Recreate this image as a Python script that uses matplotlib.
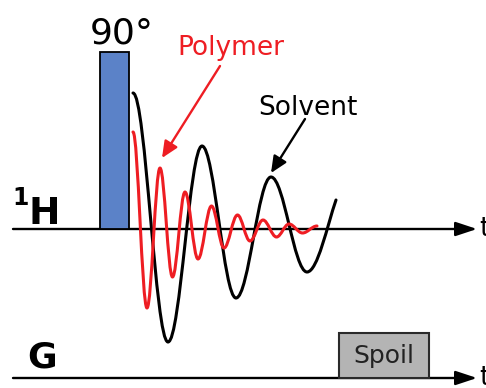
import matplotlib
matplotlib.use("Agg")
import matplotlib.pyplot as plt
from matplotlib.path import Path
from matplotlib.patches import PathPatch, Rectangle

# FID extrema (x = time, y = amplitude above the 1H line)
solvent_t = [133, 168, 202, 236, 271, 307, 336]
solvent_amp = [136, -113, 83, -69, 52, -43, 29]
polymer_t = [133, 147, 160, 172.5, 185, 198, 211.5, 224, 237.5, 250, 263, 276.5, 289, 302.5, 317]
polymer_amp = [97, -79, 61, -48, 37, -30, 23, -19, 14, -12, 9, -8, 5, -4, 3]

# pulse / gradient blocks: (start, width, height)
pulse_90 = (100, 29, 177)
spoil = (339, 90, 45)

h_line = 0
g_line = -149
t_start, t_end = 13, 477

K = 0.364  # bezier handle length for a half sine


def wave_patch(ts, amps, color, end_slope=None):
    verts = [(ts[0], amps[0])]
    codes = [Path.MOVETO]
    n = len(ts)
    for i in range(1, n):
        x0, y0, x1, y1 = ts[i-1], amps[i-1], ts[i], amps[i]
        dx = x1 - x0
        c1 = (x0 + K * dx, y0)
        if end_slope is not None and i == n - 1:
            c2 = (x1 - 0.3 * dx, y1 - 0.3 * dx * end_slope)
        else:
            c2 = (x1 - K * dx, y1)
        verts += [c1, c2, (x1, y1)]
        codes += [Path.CURVE4] * 3
    return PathPatch(Path(verts, codes), facecolor="none", edgecolor=color,
                     lw=2.2, capstyle="round", joinstyle="round", zorder=3)


fig = plt.figure(figsize=(4.86, 3.88), dpi=100)
ax = fig.add_axes([0, 0, 1, 1])
ax.set_xlim(0, 486)
ax.set_ylim(-159, 229)
ax.axis("off")

RED = "#ee1d23"

# time axes with arrows
for yl in (h_line, g_line):
    ax.annotate("", xy=(t_end, yl), xytext=(t_start, yl),
                arrowprops=dict(arrowstyle="-|>,head_length=1.3,head_width=0.43",
                                mutation_scale=10, lw=1.7, color="black",
                                shrinkA=0, shrinkB=0), zorder=2)
    ax.text(479, yl, "t", fontsize=19, ha="left", va="center")

# 90 degree pulse
ax.add_patch(Rectangle((pulse_90[0], h_line), pulse_90[1], pulse_90[2],
                       facecolor="#5b82c8", edgecolor="black", lw=1.3, zorder=4))
ax.text(pulse_90[0] + pulse_90[1] / 2 + 7, 186, "90°", fontsize=26,
        ha="center", va="baseline")

# spoil gradient
ax.add_patch(Rectangle((spoil[0], g_line), spoil[1], spoil[2],
                       facecolor="#b4b4b4", edgecolor="#2a2a2a", lw=1.5, zorder=4))
ax.text(spoil[0] + spoil[1] / 2, -134, "Spoil", fontsize=18, color="#222222",
        ha="center", va="baseline", zorder=5)

# FIDs
ax.add_patch(wave_patch(solvent_t, solvent_amp, "black", end_slope=2.9))
ax.add_patch(wave_patch(polymer_t, polymer_amp, RED))

# labels + arrows
ax.text(231, 174, "Polymer", fontsize=19, color=RED, ha="center", va="baseline")
ax.annotate("", xy=(162, 71), xytext=(220, 163),
            arrowprops=dict(arrowstyle="-|>,head_length=1.0,head_width=0.45",
                            mutation_scale=10, lw=1.7, color=RED,
                            shrinkA=0, shrinkB=0), zorder=5)
ax.text(308, 114, "Solvent", fontsize=19, color="black", ha="center", va="baseline")
ax.annotate("", xy=(271, 56), xytext=(305, 110),
            arrowprops=dict(arrowstyle="-|>,head_length=1.0,head_width=0.45",
                            mutation_scale=10, lw=1.7, color="black",
                            shrinkA=0, shrinkB=0), zorder=5)

# channel names
ax.text(12, 24, "1", fontsize=17, fontweight="bold", ha="left", va="baseline")
ax.text(28, 5, "H", fontsize=27, fontweight="bold", ha="left", va="baseline")
ax.text(27, -139, "G", fontsize=26, fontweight="bold", ha="left", va="baseline")

fig.savefig("out.png", dpi=100)
